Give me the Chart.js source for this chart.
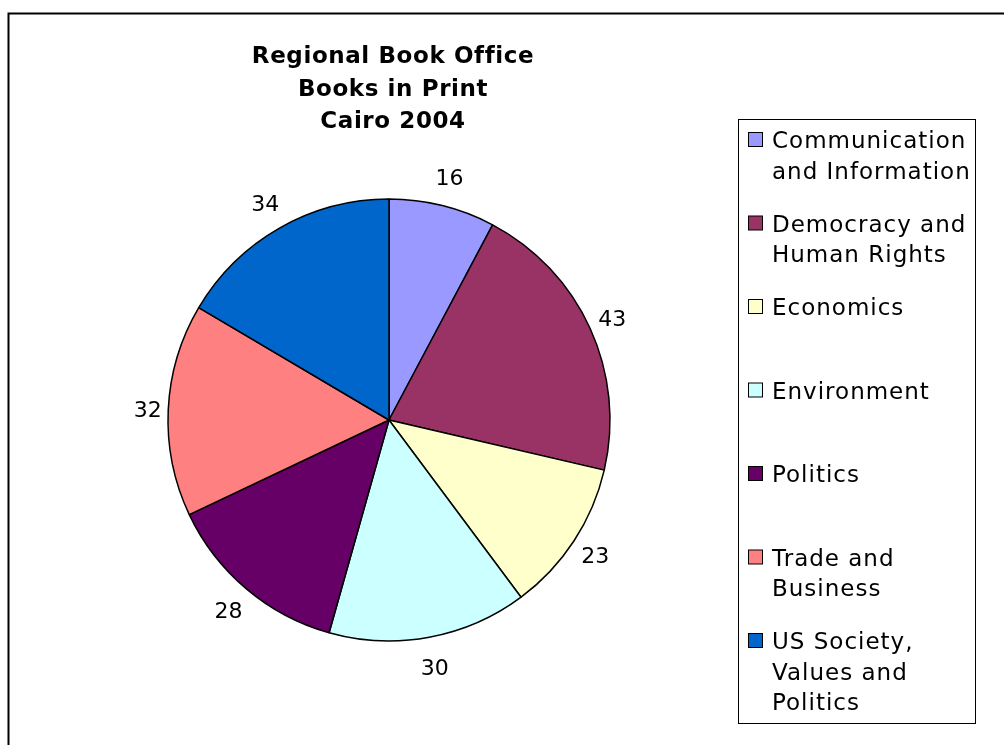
<!DOCTYPE html>
<html>
<head>
<meta charset="utf-8">
<script src="https://cdn.jsdelivr.net/npm/chart.js@4"></script>
<style>
  html, body { margin: 0; padding: 0; background: #fff; }
  #wrap { width: 1004px; height: 745px; }
</style>
</head>
<body>
<div id="wrap"><canvas id="pieChart" width="1004" height="745"></canvas></div>
<script>
// Books in print per subject
const titleLines = ['Regional Book Office', 'Books in Print', 'Cairo 2004'];
const categories = [
    'Communication\nand Information',
    'Democracy and\nHuman Rights',
    'Economics',
    'Environment',
    'Politics',
    'Trade and\nBusiness',
    'US Society,\nValues and\nPolitics'
];
const books = [16, 43, 23, 30, 28, 32, 34];
const sliceColors = ['#9999FF', '#993366', '#FFFFCC', '#CCFFFF', '#660066', '#FF8080', '#0066CC'];

const FONT = '"DejaVu Sans", Verdana, sans-serif';

// Frame, title, value labels and legend drawn straight onto the canvas
const decorations = {
    id: 'decorations',
    afterDraw(chart) {
        const ctx = chart.ctx;
        ctx.save();

        // outer frame (only top and left edges are on the page)
        ctx.strokeStyle = '#000';
        ctx.lineWidth = 2;
        ctx.strokeRect(8.5, 13.5, 2000, 2000);

        // title
        ctx.fillStyle = '#000';
        ctx.textAlign = 'center';
        ctx.textBaseline = 'alphabetic';
        ctx.font = 'bold 23px ' + FONT;
        ctx.letterSpacing = '0.6px';
        titleLines.forEach((line, i) => ctx.fillText(line, 393, 63 + i * 32.5));

        // value labels just outside each slice
        ctx.font = '22px ' + FONT;
        ctx.letterSpacing = '0px';
        const meta = chart.getDatasetMeta(0);
        meta.data.forEach((arc, i) => {
            const mid = (arc.startAngle + arc.endAngle) / 2;
            const dist = arc.outerRadius + 20 + 10 * Math.abs(Math.sin(mid));
            const x = arc.x + Math.cos(mid) * dist;
            const y = arc.y + Math.sin(mid) * dist;
            ctx.fillText(String(books[i]), x, y + 8);
        });

        // legend box
        ctx.lineWidth = 1;
        ctx.strokeRect(738.5, 119.5, 237, 604);
        ctx.textAlign = 'left';
        ctx.font = '23px ' + FONT;
        ctx.letterSpacing = '1px';
        categories.forEach((cat, i) => {
            const cy = 140 + i * 83.5;
            ctx.fillStyle = sliceColors[i];
            ctx.fillRect(748.5, cy - 7.5, 14, 14);
            ctx.strokeStyle = '#000';
            ctx.strokeRect(748.5, cy - 7.5, 14, 14);
            ctx.fillStyle = '#000';
            cat.split('\n').forEach((line, j) => ctx.fillText(line, 772, cy + 8 + j * 30.5));
        });

        ctx.restore();
    }
};

const ctx = document.getElementById('pieChart').getContext('2d');
new Chart(ctx, {
    type: 'pie',
    data: {
        labels: categories.map(c => c.replace(/\n/g, ' ')),
        datasets: [{
            data: books,
            backgroundColor: sliceColors,
            borderColor: '#000',
            borderWidth: 1.5,
            radius: 221
        }]
    },
    options: {
        responsive: false,
        animation: false,
        devicePixelRatio: 1,
        layout: {
            padding: { left: 0, right: 226, top: 95, bottom: 0 }
        },
        plugins: {
            legend: { display: false },
            title: { display: false },
            tooltip: { enabled: false }
        }
    },
    plugins: [decorations]
});
</script>
</body>
</html>
